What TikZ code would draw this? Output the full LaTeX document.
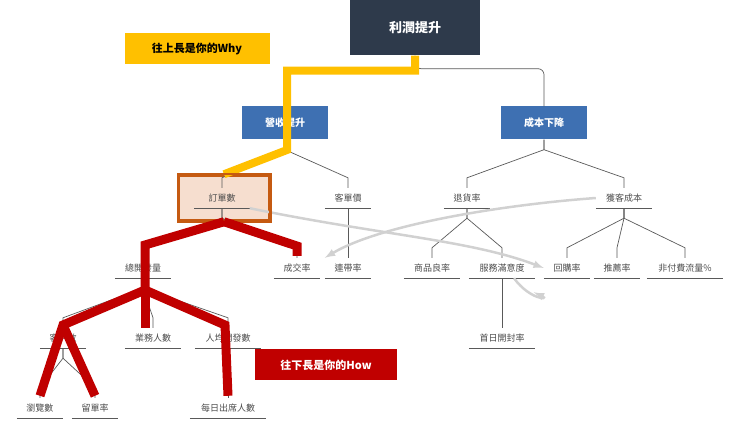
\documentclass[tikz,border=0pt]{standalone}
\usepackage{fontspec}
\setmainfont{Noto Sans CJK TC}
\usepackage{tikz}
\definecolor{navy}{HTML}{2E3A4B}
\definecolor{bluebox}{HTML}{3E70B2}
\definecolor{gold}{HTML}{FFC000}
\definecolor{howred}{HTML}{C00000}
\definecolor{ordfill}{HTML}{F6DECF}
\definecolor{ordline}{HTML}{C55A11}
\newcommand\branch[2]{\draw[conn] (#1.south) -- ++(0,10) -- ([yshift=10pt]#2.north) -- (#2.north);}

\begin{document}
\begin{tikzpicture}[x=1pt, y=-1pt,
    lbl/.style = {inner sep=0pt, minimum height=20pt, text=black!70, font=\fontsize{9}{10}\selectfont},
    head/.style = {fill=bluebox, text=white, font=\bfseries\fontsize{10}{12}\selectfont, minimum width=86pt, minimum height=33pt},
    tag/.style = {text=white, font=\bfseries\fontsize{11}{13}\selectfont, inner sep=0pt, minimum height=31pt},
    conn/.style = {draw=black!65, line width=0.7pt},
    ul/.style = {draw=black!65, line width=0.7pt},
    hint/.style = {draw=black!18, line width=2.5pt, -latex}]
    \useasboundingbox (0,0) rectangle (740,422);

    \node at (415,28) [fill=navy, text=white, font=\bfseries\fontsize{13}{15}\selectfont, minimum width=130pt, minimum height=55pt] (top) {利潤提升};
    \node at (285,123) [head] (rev) {營收提升};
    \node at (544,123) [head] (cost) {成本下降};

    \node at (224,198) [draw=ordline, line width=2.5pt, fill=ordfill, minimum width=90pt, minimum height=45pt] (ordbox) {};
    \node at (222,198) [lbl, minimum width=55pt] (order) {訂單數};
    \node at (348,198) [lbl, minimum width=46pt] (price) {客單價};
    \node at (467,198) [lbl, minimum width=46pt] (ret) {退貨率};
    \node at (624,198) [lbl, minimum width=56pt] (acq) {獲客成本};

    \node at (143,268) [lbl, minimum width=56pt] (leads) {總開發量};
    \node at (297,268) [lbl, minimum width=46pt] (close) {成交率};
    \node at (348,268) [lbl, minimum width=46pt] (attach) {連帶率};
    \node at (432,268) [lbl, minimum width=56pt] (qual) {商品良率};
    \node at (502,268) [lbl, minimum width=66pt] (serv) {服務滿意度};
    \node at (567,268) [lbl, minimum width=46pt] (rebuy) {回購率};
    \node at (617,268) [lbl, minimum width=46pt] (refer) {推薦率};
    \node at (685,268) [lbl, minimum width=76pt] (free) {非付費流量\%};

    \node at (63,338) [lbl, minimum width=46pt] (cust) {客戶數};
    \node at (153,338) [lbl, minimum width=56pt] (staff) {業務人數};
    \node at (228,338) [lbl, minimum width=66pt] (avg) {人均開發數};
    \node at (502,338) [lbl, minimum width=66pt] (open) {首日開封率};

    \node at (40,408) [lbl, minimum width=46pt] (view) {瀏覽數};
    \node at (95,408) [lbl, minimum width=46pt] (form) {留單率};
    \node at (228,408) [lbl, minimum width=76pt] (daily) {每日出席人數};

    \foreach \n in {order,price,ret,acq,leads,close,attach,qual,serv,rebuy,refer,free,cust,staff,avg,open,view,form,daily}
        \draw[ul] (\n.south west) -- (\n.south east);

    % tree
    \draw[conn, rounded corners=6pt] (top.south) -- ++(0,13) -| (cost.north);
    \branch{rev}{order} \branch{rev}{price}
    \branch{cost}{ret} \branch{cost}{acq}
    \branch{order}{leads} \branch{order}{close}
    \draw[conn] (price.south) -- (attach.north);
    \branch{ret}{qual} \branch{ret}{serv}
    \branch{acq}{rebuy} \branch{acq}{refer} \branch{acq}{free}
    \draw[conn] (serv.south) -- (open.north);
    \branch{leads}{cust} \branch{leads}{staff} \branch{leads}{avg}
    \branch{cust}{view} \branch{cust}{form}
    \draw[conn] (avg.south) -- (daily.north);

    % hints
    \draw[hint] (order.south east) .. controls (380,235) and (470,240) .. (rebuy.west);
    \draw[hint] (acq.west) .. controls (500,205) and (380,225) .. (attach.north west);
    \draw[hint] ([xshift=12pt]serv.south) .. controls (530,300) and (550,300) .. ([xshift=-10pt, yshift=-14pt]rebuy.south west);

    % why
    \node at (197,49) [tag, fill=gold, text=black, minimum width=145pt] (why) {往上長是你的Why};
    \draw[gold, line width=8pt] (top.south) -- ++(0,15) -| (287,150) -- (ordbox.north);
    \draw[ordline, line width=2.5pt] (ordbox.north west) rectangle (ordbox.south east);

    % how
    \node at (326,365) [tag, fill=howred, minimum width=142pt] (how) {往下長是你的How};
    \draw[howred, line width=9pt] (ordbox.south) -- (145,245) -- (145,290) -- (63,325) -- ([yshift=2pt]view.north);
    \draw[howred, line width=9pt] (63,325) -- ([yshift=2pt]form.north);
    \draw[howred, line width=9pt] (ordbox.south) -- (297,246) -- ([yshift=2pt]close.north);
    \draw[howred, line width=9pt] (145,290) -- ([xshift=-8pt]staff.north);
    \draw[howred, line width=9pt] (145,290) -- (225,325) -- ([yshift=2pt]daily.north);
\end{tikzpicture}
\end{document}
